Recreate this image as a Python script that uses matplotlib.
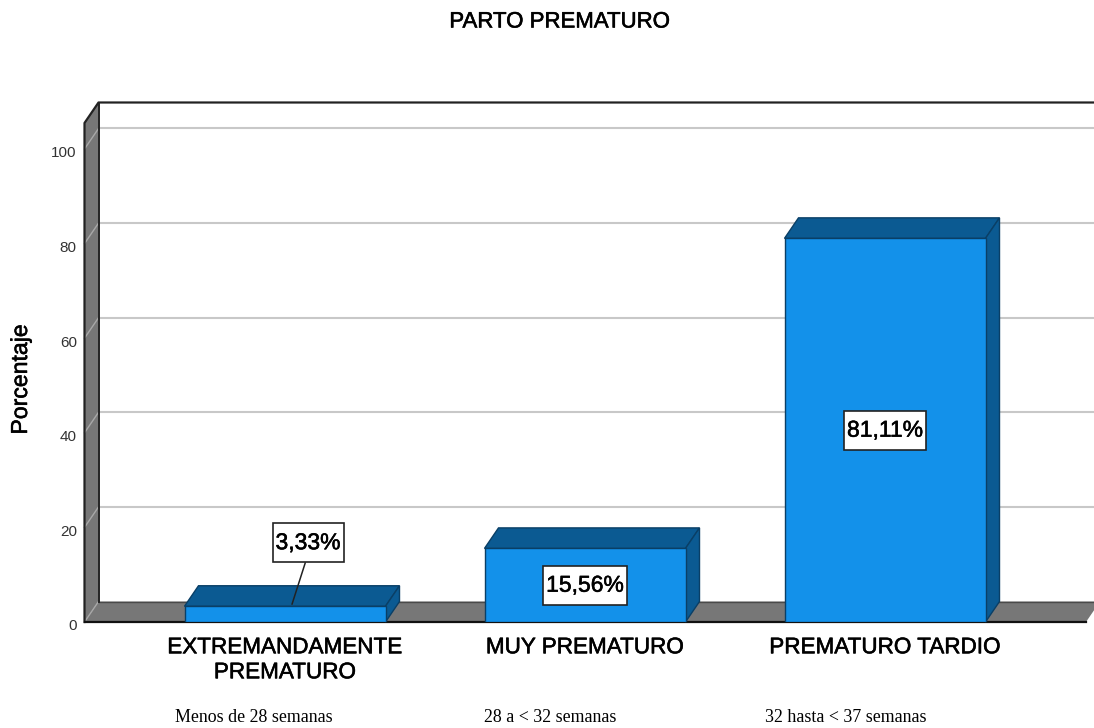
import matplotlib
matplotlib.use('Agg')
import matplotlib.pyplot as plt
import matplotlib.patheffects as pe
from matplotlib.patches import Polygon
from matplotlib.path import Path
from matplotlib.transforms import ScaledTranslation

# data
categories = ['EXTREMANDAMENTE\nPREMATURO', 'MUY PREMATURO', 'PREMATURO TARDIO']
values = [3.33, 15.56, 81.11]
value_labels = ['3,33%', '15,56%', '81,11%']
y_ticks = [0, 20, 40, 60, 80, 100]
notes = ['Menos de 28 semanas', '28 a < 32 semanas', '32 hasta < 37 semanas']

W, H = 1094, 728
BLUE = '#1391EA'
DARK = '#0B5A92'
EDGE = '#0A3F66'
WALL = '#777777'
GRID = '#C8C8C8'

# pixel layout of the front plane
left, right, zero_y, top_y = 84.5, 1094, 622, 123
px_per_cat, px_per_unit = 300, 4.73
first_cat = 285
bar_w = 201 / px_per_cat
dx = 14 / px_per_cat          # depth of the 3d box
dy = 20.5 / px_per_unit

plt.rcParams['font.family'] = ['Liberation Sans', 'DejaVu Sans']
heavy = [pe.withStroke(linewidth=0.4, foreground='black')]


def label_box(x, y, w, h, mutation_size):
    # box tight in width, tall in height, like the chart's data labels
    pad_x, box_h = 3, 39
    x0, x1 = x - pad_x, x + w + pad_x
    y0 = y + h / 2 - box_h / 2
    y1 = y0 + box_h
    return Path([(x0, y0), (x1, y0), (x1, y1), (x0, y1), (x0, y0)], closed=True)


fig = plt.figure(figsize=(W / 100, H / 100), dpi=100)
ax = fig.add_axes([left / W, (H - zero_y) / H, (right - left) / W, (zero_y - top_y) / H])
x0 = (left - first_cat) / px_per_cat
x1 = (right - first_cat) / px_per_cat
y1 = (zero_y - top_y) / px_per_unit
ax.set_xlim(x0, x1)
ax.set_ylim(0, y1)
for s in ax.spines.values():
    s.set_visible(False)
ax.patch.set_visible(False)

# left wall and floor
floor_end = (1086 - first_cat) / px_per_cat
ax.add_patch(Polygon([(x0, 0), (x0, y1), (x0 + dx, y1 + dy), (x0 + dx, dy)], fc=WALL, ec='none',
                     clip_on=False, zorder=1))
ax.add_patch(Polygon([(x0, 0), (x0 + dx, dy), (x1 + dx, dy), (floor_end + dx, dy), (floor_end, 0)],
                     fc=WALL, ec='none', clip_on=False, zorder=1))
ax.plot([x0 + dx, x1], [dy, dy], color='#4A4A4A', lw=1, clip_on=False, zorder=1.5)

# gridlines on the back wall, with the slanted piece on the left wall
for t in y_ticks[1:]:
    ax.plot([x0 + dx, x1], [t + dy, t + dy], color=GRID, lw=1.5, clip_on=False, zorder=0.5)
    ax.plot([x0, x0 + dx], [t, t + dy], color='#A8A8A8', lw=1, clip_on=False, zorder=1.5)
ax.plot([x0, x0 + dx], [0, dy], color='#A8A8A8', lw=1, clip_on=False, zorder=1.5)

# wall outline
ax.plot([x0, x0, x0 + dx, x1], [0, y1, y1 + dy, y1 + dy], color='#222222', lw=1.6, clip_on=False, zorder=2)
ax.plot([x0 + dx, x0 + dx], [dy, y1 + dy], color='#222222', lw=1.4, clip_on=False, zorder=2)
ax.plot([x0, floor_end], [0, 0], color='#111111', lw=1.6, clip_on=False, zorder=2)

# bars
for i, v in enumerate(values):
    a, b = i - bar_w / 2, i + bar_w / 2
    ax.add_patch(Polygon([(a, v), (a + dx, v + dy), (b + dx, v + dy), (b, v)], fc=DARK, ec=EDGE, lw=1,
                         clip_on=False, zorder=3))
    ax.add_patch(Polygon([(b, 0), (b, v), (b + dx, v + dy), (b + dx, dy)], fc=DARK, ec=EDGE, lw=1,
                         clip_on=False, zorder=3))
    ax.bar(i, v, width=bar_w, color=BLUE, edgecolor=EDGE, lw=1, zorder=4)

# value labels
box = dict(boxstyle=label_box, fc='white', ec='#222222', lw=1.2)
for i, v in enumerate(values):
    if v < 5:
        ax.annotate(value_labels[i], xy=(i + 7 / px_per_cat, v + 2 / px_per_unit), xytext=(16, 61.5),
                    textcoords='offset pixels', ha='center', va='center', fontsize=16.5, bbox=box,
                    path_effects=heavy, zorder=6, annotation_clip=False,
                    arrowprops=dict(arrowstyle='-', color='#222222', lw=1.1, relpos=(0.5, 0),
                                    shrinkA=0, shrinkB=0))
    else:
        ax.text(i, v / 2, value_labels[i], ha='center', va='center', fontsize=16.5, bbox=box,
                path_effects=heavy, zorder=6)

# ticks
ax.set_yticks(y_ticks)
ax.set_xticks(range(len(categories)))
ax.set_xticklabels(categories, fontsize=16.2, linespacing=1.25, path_effects=heavy)
ax.tick_params(axis='x', length=0, pad=11, colors='black')
ax.tick_params(axis='y', length=0, pad=5.5, labelsize=11, labelcolor='#333333')
tick_shift = ScaledTranslation(0, -3 / 100, fig.dpi_scale_trans)
for lab in ax.get_yticklabels():
    lab.set_transform(lab.get_transform() + tick_shift)
ax.set_ylabel('Porcentaje', fontsize=16.6, path_effects=heavy)
ax.yaxis.set_label_coords((32 - left) / (right - left), (zero_y - 379.5) / (zero_y - top_y))

fig.text(560 / W, 1 - 22 / H, 'PARTO PREMATURO', ha='center', va='center', fontsize=16, path_effects=heavy)

# typed notes under the chart
for x, note in zip([254, 550, 846], notes):
    fig.text(x / W, 1 - 717 / H, note, ha='center', va='center', fontsize=12.9, family='Liberation Serif')

fig.savefig('out.png', dpi=100)
